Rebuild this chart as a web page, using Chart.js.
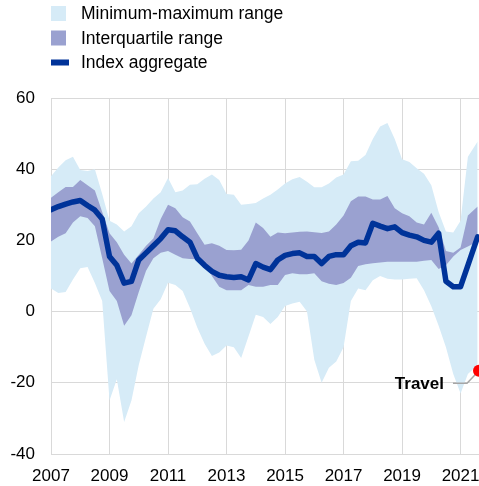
<!DOCTYPE html>
<html>
<head>
<meta charset="utf-8">
<title>Index aggregate with ranges</title>
<script src="https://cdn.jsdelivr.net/npm/chart.js@4"></script>
<style>
  html, body { margin: 0; padding: 0; background: #ffffff; }
  #chart { display: block; }
</style>
</head>
<body>
<canvas id="chart" width="479" height="486"></canvas>
<script>
// quarterly readings (Jan/Apr/Jul/Oct), last one is Aug 2021
const dates = [];
for (let y = 2007; y <= 2021; y++) {
    for (const m of [1, 4, 7, 10]) {
        if (y === 2021 && m > 4) break;
        dates.push(y + (m - 1) / 12);
    }
}
dates.push(2021 + 7 / 12);

const aggregate = [
    28.6, 29.5, 30.2, 30.8, 31.2, 29.8, 28.5, 26, 15.5, 13,
    8, 8.5, 14.5, 16.5, 18.5, 20.5, 23, 22.7, 21, 19.5,
    15, 13, 11.3, 10.2, 9.8, 9.6, 9.8, 8.9, 13.5, 12.5,
    11.8, 14.5, 15.8, 16.3, 16.5, 15.5, 15.5, 13.5, 15.5, 16,
    16, 18.5, 19.5, 19.3, 24.8, 24, 23.3, 23.8, 22.2, 21.5,
    21, 20, 19.5, 22, 8.5, 7, 7, 13, 21
];
const maxVals = [
    38, 40.5, 42.5, 43.5, 39.8, 39.5, 40, 33, 25.5, 24.5,
    22.5, 24, 27.6, 29.5, 31.8, 33.5, 37.5, 33.5, 34, 35.6,
    35.8, 37.3, 38.5, 37, 33, 32.8, 30, 30.2, 30.5, 31.8,
    32.8, 34.3, 36, 37.2, 37.8, 36.5, 34.9, 34.9, 36, 37.7,
    38.5, 42.2, 42.4, 44, 48.5, 52, 53, 48.5, 42.8, 42,
    40.3, 38.7, 35.5, 28, 22.5, 22.2, 25.5, 43.5, 47.8
];
const minVals = [
    6.5, 5.2, 5.5, 9, 12.2, 12.5, 8, 3, -25, -19,
    -31, -25, -15, -7, 0.8, 3.5, 8.1, 7.5, 5.8, 1,
    -4.5, -9, -12.5, -11.5, -9.5, -10, -13, -7, -0.9, -1.5,
    -3.5, -1.5, 1.6, 2.3, 2.8, 0, -13.5, -20, -15.8, -14,
    -10, 3, 6.5, 6, 8.8, 10, 9.2, 9, 9, 9.2,
    9.4, 6, 1.5, -4, -10, -17.5, -23, -17.5, -15
];
const q3Vals = [
    32, 33.5, 35, 35, 37, 35.5, 34, 28, 22, 19.5,
    16, 13.5, 16, 18.5, 20.5, 26, 30, 29, 26.5, 25.3,
    22, 18.8, 19.2, 18.5, 17.3, 17.2, 17.4, 20, 25, 23.5,
    21, 22.2, 22, 22.2, 22.4, 22.5, 22.3, 22.1, 22.5, 24.5,
    27, 31, 32.3, 32.3, 31.5, 31.5, 32.5, 29, 27.6, 26.8,
    25, 24.5, 27.8, 23.7, 17, 16.5, 18, 27, 29.5
];
const q1Vals = [
    19.7, 21, 22, 25, 26.8, 26.3, 24, 15, 5.8, 3,
    -4, -1, 5.5, 11.5, 15, 16.5, 17, 16, 15, 14.8,
    14.7, 13.5, 10, 7, 6, 6, 6, 7.5, 7, 7,
    7.5, 7.5, 10.3, 10.8, 10.5, 10.5, 10.8, 8.5, 7.8, 7.5,
    8, 9.5, 12.8, 13.3, 13.6, 13.8, 14, 14, 14, 14,
    14, 14.3, 14.5, 12, 13, 15.5, 17.3, 18.3, 19.7
];

// highlighted sector: label end, elbow, latest value
const travelLabel = 'Travel';
const travelX = [2020.74, 2021.22, 2021.63];
const travelY = [-20.1, -20.1, -16.6];

const yearTicks = [2007, 2009, 2011, 2013, 2015, 2017, 2019, 2021];
const yTicks = [-40, -20, 0, 20, 40, 60];

const DARK_BLUE = '#003399';
const LIGHT_BLUE = '#d6ebf7';
const MID_BLUE = '#9aa1d0';
const GRID = '#d9d9d9';
const FONT = '"Liberation Sans", Arial, sans-serif';

const pts = vals => vals.map((v, i) => ({ x: dates[i], y: v }));

const data = {
    datasets: [
        {
            label: 'Index aggregate',
            data: pts(aggregate),
            borderColor: DARK_BLUE,
            borderWidth: 5.5,
            borderJoinStyle: 'round',
            borderCapStyle: 'round',
            pointRadius: 0,
            fill: false,
            legendShape: 'line'
        },
        {
            label: 'Interquartile range',
            data: pts(q3Vals),
            borderWidth: 0,
            pointRadius: 0,
            backgroundColor: MID_BLUE,
            fill: '+1',
            legendShape: 'box'
        },
        {
            label: 'q1',
            data: pts(q1Vals),
            borderWidth: 0,
            pointRadius: 0,
            fill: false
        },
        {
            label: 'Minimum-maximum range',
            data: pts(maxVals),
            borderWidth: 0,
            pointRadius: 0,
            backgroundColor: LIGHT_BLUE,
            fill: '+1',
            legendShape: 'box'
        },
        {
            label: 'min',
            data: pts(minVals),
            borderWidth: 0,
            pointRadius: 0,
            fill: false
        },
        {
            label: travelLabel,
            data: travelX.map((x, i) => ({ x: x, y: travelY[i] })),
            borderColor: '#a6a6a6',
            borderWidth: 1.5,
            pointRadius: [0, 0, 6],
            pointBackgroundColor: '#ff0000',
            pointBorderWidth: 0,
            fill: false,
            order: -1
        }
    ]
};

// legend drawn as a stacked list at the top left
const stackedLegend = {
    id: 'stackedLegend',
    afterDraw(chart) {
        const ctx = chart.ctx;
        const items = chart.data.datasets.filter(d => d.legendShape);
        const order = ['Minimum-maximum range', 'Interquartile range', 'Index aggregate'];
        items.sort((a, b) => order.indexOf(a.label) - order.indexOf(b.label));
        ctx.save();
        ctx.font = '17.5px ' + FONT;
        ctx.textBaseline = 'middle';
        ctx.textAlign = 'left';
        items.forEach((d, k) => {
            const cy = 13.5 + k * 24.5;
            if (d.legendShape === 'box') {
                ctx.fillStyle = d.backgroundColor;
                ctx.fillRect(51, cy - 7.5, 15, 15);
            } else {
                ctx.fillStyle = d.borderColor;
                ctx.fillRect(51, cy - 3, 18, 6);
            }
            ctx.fillStyle = '#000000';
            ctx.fillText(d.label, 81, cy + 1);
        });
        ctx.restore();
    }
};

// text label next to the highlighted sector line
const sectorLabel = {
    id: 'sectorLabel',
    afterDatasetsDraw(chart) {
        const ctx = chart.ctx;
        const x = chart.scales.x.getPixelForValue(travelX[0]);
        const y = chart.scales.y.getPixelForValue(travelY[0]);
        ctx.save();
        ctx.font = 'bold 17px ' + FONT;
        ctx.fillStyle = '#000000';
        ctx.textAlign = 'right';
        ctx.textBaseline = 'middle';
        ctx.fillText(travelLabel, x - 9, y + 1);
        ctx.restore();
    }
};

const config = {
    type: 'line',
    data: data,
    options: {
        responsive: false,
        animation: false,
        layout: {
            autoPadding: false,  // the red end dot would otherwise pull the plot in
            padding: { top: 98, left: 10, right: 0, bottom: 0 }
        },
        plugins: {
            legend: { display: false },
            tooltip: { enabled: false },
            filler: { propagate: false }
        },
        scales: {
            x: {
                type: 'linear',
                min: 2007,
                max: 2021.63,
                afterBuildTicks: scale => {
                    scale.ticks = yearTicks.map(v => ({ value: v }));
                },
                afterFit: scale => {
                    scale.height = 32;
                    scale.paddingLeft = 0;
                    scale.paddingRight = 0;
                },
                grid: { color: GRID, lineWidth: 1, drawTicks: false },
                border: { color: GRID, width: 1 },
                ticks: {
                    font: { family: FONT, size: 17 },
                    color: '#000000',
                    padding: 12,
                    maxRotation: 0,
                    autoSkip: false,
                    callback: v => String(v)
                }
            },
            y: {
                min: -40,
                max: 60,
                afterBuildTicks: scale => {
                    scale.ticks = yTicks.map(v => ({ value: v }));
                },
                afterFit: scale => {
                    scale.width = 41;
                },
                grid: { color: GRID, lineWidth: 1, drawTicks: false },
                border: { color: GRID, width: 1 },
                ticks: {
                    font: { family: FONT, size: 17 },
                    color: '#000000',
                    padding: 16
                }
            }
        }
    },
    plugins: [stackedLegend, sectorLabel]
};

const myChart = new Chart(document.getElementById('chart'), config);
</script>
</body>
</html>
